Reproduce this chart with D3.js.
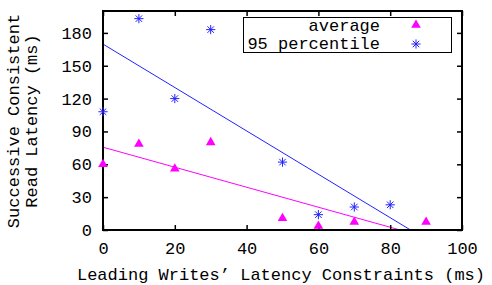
<!DOCTYPE html>
<html>
<head>
<meta charset="utf-8">
<script src="https://cdn.jsdelivr.net/npm/d3@7"></script>
<style>
body { margin: 0; background: #fff; }
svg text { font-family: "Liberation Mono", "Courier New", monospace; font-size: 17px; fill: #000; }
</style>
</head>
<body>
<svg id="chart" width="492" height="285"></svg>
<script>
// values
var avgX = [0, 10, 20, 30, 50, 60, 70, 90],
	avgY = [60, 78.5, 56, 80, 10.7, 3.6, 7.3, 7.3];
var p95X = [0, 10, 20, 30, 50, 60, 70, 80],
	p95Y = [108, 193, 120, 183, 62, 14, 21, 23];
var xTicks = [0, 20, 40, 60, 80, 100],
	yTicks = [0, 30, 60, 90, 120, 150, 180];
var seriesNames = ['average', '95 percentile'];

var m = {left: 103, right: 30, top: 11, bottom: 55},
	W = 492, H = 285,
	w = W - m.left - m.right,
	h = H - m.top - m.bottom;

var svg = d3.select('#chart');
var g = svg.append('g').attr('transform', 'translate(' + m.left + ',' + m.top + ')');

var x = d3.scaleLinear().domain([0, 100]).range([0, w]);
var y = d3.scaleLinear().domain([0, 200]).range([h, 0]);

var magenta = '#ff00ff', blue = '#2222ff';

// least squares fit
var fit = function(xs, ys) {
	var mx = d3.mean(xs), my = d3.mean(ys), sxy = 0, sxx = 0, i;
	for (i = 0; i < xs.length; i++) {
		sxy += (xs[i] - mx) * (ys[i] - my);
		sxx += (xs[i] - mx) * (xs[i] - mx);
	}
	var b = sxy / sxx;
	return {a: my - b * mx, b: b};
};

svg.append('clipPath').attr('id', 'clip')
	.append('rect').attr('width', w).attr('height', h);

var drawFit = function(xs, ys, color) {
	var f = fit(xs, ys);
	var x1 = Math.min(100, -f.a / f.b);
	g.append('line')
		.attr('clip-path', 'url(#clip)')
		.attr('x1', x(0)).attr('y1', y(f.a))
		.attr('x2', x(x1)).attr('y2', y(f.a + f.b * x1))
		.attr('stroke', color).attr('stroke-width', 1);
};
drawFit(avgX, avgY, magenta);
drawFit(p95X, p95Y, blue);

// axes, gnuplot style: ticks inward, mirrored
var axB = d3.axisBottom(x).tickValues(xTicks).tickSizeInner(-5).tickSizeOuter(0).tickPadding(12);
var axT = d3.axisTop(x).tickValues(xTicks).tickSizeInner(-5).tickSizeOuter(0).tickFormat('');
var axL = d3.axisLeft(y).tickValues(yTicks).tickSizeInner(-5).tickSizeOuter(0).tickPadding(11);
var axR = d3.axisRight(y).tickValues(yTicks).tickSizeInner(-5).tickSizeOuter(0).tickFormat('');

[[axB, 'translate(0,' + h + ')'], [axT, null], [axL, null], [axR, 'translate(' + w + ',0)']].forEach(function(a) {
	var s = g.append('g').call(a[0]);
	if (a[1]) s.attr('transform', a[1]);
	s.select('.domain').remove();
	s.selectAll('line').attr('stroke', '#000').attr('stroke-width', 1.5);
	s.selectAll('text').attr('font-family', null).attr('font-size', null).attr('fill', '#000');
});

g.append('rect').attr('width', w).attr('height', h)
	.attr('fill', 'none').attr('stroke', '#000').attr('stroke-width', 2);

// markers
var tri = d3.symbol().type(d3.symbolTriangle).size(40);
var star = function(r) {
	var p = '', i, a;
	for (i = 0; i < 4; i++) {
		a = i * Math.PI / 4;
		p += 'M' + (-r * Math.cos(a)) + ',' + (-r * Math.sin(a)) + 'L' + (r * Math.cos(a)) + ',' + (r * Math.sin(a));
	}
	return p;
};

g.selectAll('.avg').data(avgX).enter().append('path')
	.attr('class', 'avg')
	.attr('d', tri)
	.attr('transform', function(d, i) { return 'translate(' + x(d) + ',' + y(avgY[i]) + ')'; })
	.attr('fill', magenta);

g.selectAll('.p95').data(p95X).enter().append('path')
	.attr('class', 'p95')
	.attr('d', star(4.6))
	.attr('transform', function(d, i) { return 'translate(' + x(d) + ',' + y(p95Y[i]) + ')'; })
	.attr('stroke', blue).attr('stroke-width', 1).attr('fill', 'none');

// legend
var lg = svg.append('g');
lg.append('rect').attr('x', 243.5).attr('y', 17.5).attr('width', 208).attr('height', 35)
	.attr('fill', '#fff').attr('stroke', '#000').attr('stroke-width', 1);
lg.append('text').attr('x', 380).attr('y', 31).attr('text-anchor', 'end').text(seriesNames[0]);
lg.append('text').attr('x', 380).attr('y', 49).attr('text-anchor', 'end').text(seriesNames[1]);
lg.append('path').attr('d', tri).attr('transform', 'translate(416,25)').attr('fill', magenta);
lg.append('path').attr('d', star(4.6)).attr('transform', 'translate(416,44)')
	.attr('stroke', blue).attr('stroke-width', 1).attr('fill', 'none');

// axis titles
svg.append('text').attr('x', 281).attr('y', 280).attr('text-anchor', 'middle')
	.text('Leading Writes\u2019 Latency Constraints (ms)');
var yt = svg.append('text').attr('transform', 'translate(19,121) rotate(-90)').attr('text-anchor', 'middle');
yt.append('tspan').attr('x', 0).attr('dy', 0).text('Successive Consistent');
yt.append('tspan').attr('x', 0).attr('dy', 18).text('Read Latency (ms)');
</script>
</body>
</html>
